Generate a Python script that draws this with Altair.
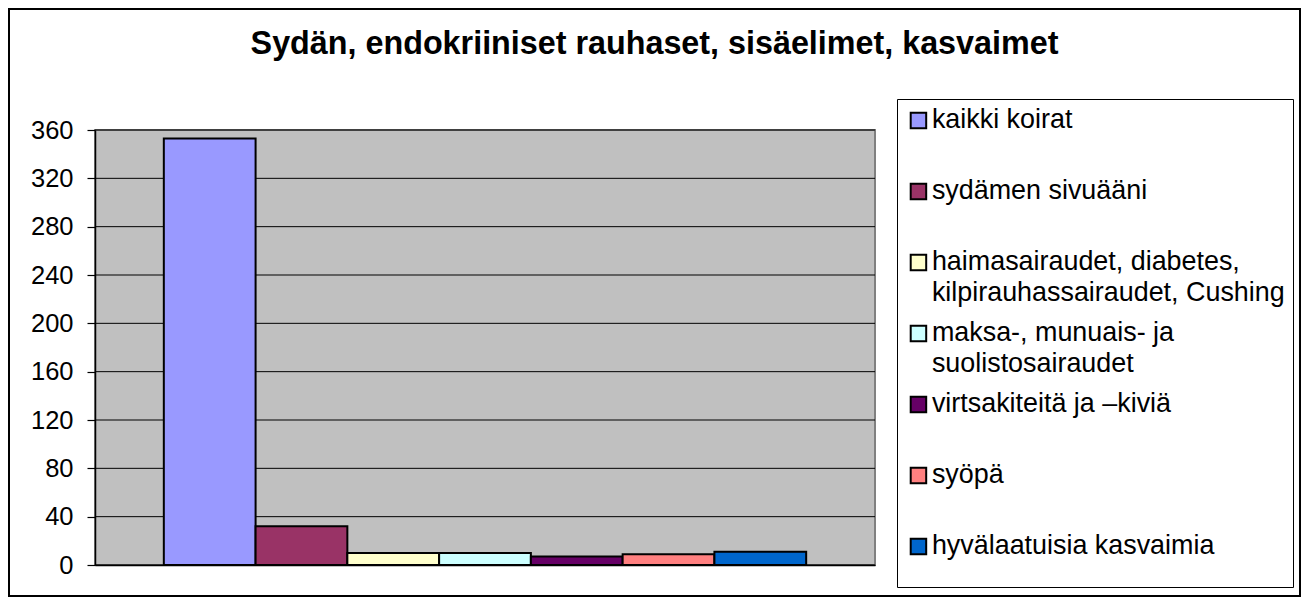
import json
import altair as alt
import pandas as pd

# ---- data ----
chart_title = "Sydän, endokriiniset rauhaset, sisäelimet, kasvaimet"
series = [
    "kaikki koirat",
    "sydämen sivuääni",
    "haimasairaudet, diabetes, kilpirauhassairaudet, Cushing",
    "maksa-, munuais- ja suolistosairaudet",
    "virtsakiteitä ja –kiviä",
    "syöpä",
    "hyvälaatuisia kasvaimia",
]
legend_lines = [
    ["kaikki koirat"],
    ["sydämen sivuääni"],
    ["haimasairaudet, diabetes,", "kilpirauhassairaudet, Cushing\u00a0"],
    ["maksa-, munuais- ja", "suolistosairaudet"],
    ["virtsakiteitä ja –kiviä"],
    ["syöpä"],
    ["hyvälaatuisia kasvaimia"],
]
values = [353, 32, 10, 10, 7, 9, 11]
colors = ["#9999FF", "#993366", "#FFFFCC", "#CCFFFF", "#660066", "#FF8080", "#0066CC"]
y_ticks = [0, 40, 80, 120, 160, 200, 240, 280, 320, 360]

# ---- layout ----
W, H = 1291, 587
PLOT_X = [86, 866]
PLOT_Y = [556, 121]
n = len(series)
gap = 0.75  # half of Excel's 150% gap width
x_dom = [-0.5 - gap, n - 0.5 + gap]
y_dom = [0, 360]
FONT = "Liberation Sans"

xs = alt.Scale(domain=x_dom, range=PLOT_X, nice=False, zero=False)
ys = alt.Scale(domain=y_dom, range=PLOT_Y, nice=False, zero=False)

bars_df = pd.DataFrame({"series": series, "value": values, "idx": list(range(n))})
bg_df = pd.DataFrame({"x0": [x_dom[0]], "x1": [x_dom[1]], "y0": [y_dom[0]], "y1": [y_dom[1]]})
grid_df = pd.DataFrame({"v": y_ticks, "x0": x_dom[0], "x1": x_dom[1]})

# multi-line legend labels
expr = "datum.label"
for name, lines in reversed(list(zip(series, legend_lines))):
    if len(lines) > 1:
        expr = f"datum.label === {json.dumps(name, ensure_ascii=False)} ? {json.dumps(lines, ensure_ascii=False)} : ({expr})"

y_axis = alt.Axis(
    values=y_ticks, offset=-PLOT_X[0], title=None, grid=False,
    domainColor="black", domainWidth=1.5, tickColor="black", tickSize=8, tickWidth=1.2,
    labelFont=FONT, labelFontSize=25.5, labelColor="black", labelPadding=14,
    labelOverlap=False, zindex=1,
)
x_axis = alt.Axis(
    offset=PLOT_Y[0] - H, title=None, grid=False, labels=False, ticks=False,
    domainColor="black", domainWidth=1.5, zindex=1,
)

bg = alt.Chart(bg_df).mark_rect(fill="#C0C0C0", stroke="#808080", strokeWidth=2).encode(
    x=alt.X("x0:Q", scale=xs, axis=x_axis),
    x2="x1:Q",
    y=alt.Y("y0:Q", scale=ys, axis=y_axis),
    y2="y1:Q",
)

grid = alt.Chart(grid_df).mark_rule(color="black", strokeWidth=1).encode(
    x=alt.X("x0:Q", scale=xs, axis=x_axis),
    x2="x1:Q",
    y=alt.Y("v:Q", scale=ys, axis=y_axis),
)

bars = alt.Chart(bars_df).transform_calculate(
    left="datum.idx - 0.5", right="datum.idx + 0.5", base="0"
).mark_rect(stroke="black", strokeWidth=2).encode(
    x=alt.X("left:Q", scale=xs, axis=x_axis),
    x2="right:Q",
    y=alt.Y("value:Q", scale=ys, axis=y_axis),
    y2="base:Q",
    fill=alt.Fill(
        "series:N",
        scale=alt.Scale(domain=series, range=colors),
        legend=alt.Legend(
            orient="none", legendX=888, legendY=90, direction="vertical",
            title="\u00a0", titleOrient="bottom", titleFontSize=15, titlePadding=5,
            symbolType="square", symbolSize=240, symbolStrokeColor="black",
            symbolStrokeWidth=2, symbolOpacity=1,
            labelFont=FONT, labelFontSize=26.9, labelColor="black", labelLimit=700,
            labelOffset=0, labelExpr=expr,
            strokeColor="black", fillColor="white", padding=8,
            rowPadding=12, gridAlign="all",
        ),
    ),
    tooltip=["series:N", "value:Q"],
)

chart = alt.layer(bg, grid, bars).properties(
    width=W, height=H,
    autosize=alt.AutoSizeParams(type="none"),
    padding={"left": 1, "top": 1, "right": 1, "bottom": 1},
    title=alt.TitleParams(
        text=chart_title, font=FONT, fontSize=32.3, fontWeight="bold", color="black",
        anchor="middle", frame="group", offset=-77, baseline="alphabetic",
    ),
).configure(
    background="white",
    style={"guide-label": {"lineHeight": 31}},
).configure_view(stroke="black", strokeWidth=2, fill="white")

chart.save("out.html", embed_options={"renderer": "svg", "actions": False})
